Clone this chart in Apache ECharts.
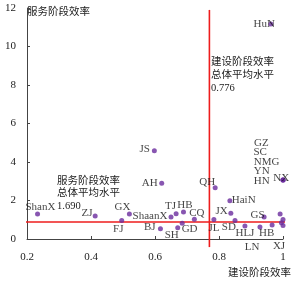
<!DOCTYPE html>
<html><head><meta charset="utf-8">
<script src="https://cdn.jsdelivr.net/npm/echarts/dist/echarts.min.js"></script>
<style>html,body{margin:0;padding:0;background:#fff}#c{width:297px;height:284px}</style>
</head><body><div id="c"></div>
<script>
// ---- data ----
const provinces = ['ShanX','ZJ','FJ','GX','ShaanX','BJ','SH','TJ','HB','GD','CQ','JS','AH','QH','JL','SD','HaiN','JX','HLJ','HB','GS','LN','XJ','HuN','NX','GZ','SC','NMG','YN','HN'];
const buildEff = [0.233,0.413,0.496,0.520,0.650,0.617,0.671,0.666,0.689,0.685,0.723,0.598,0.621,0.788,0.784,0.850,0.834,0.837,0.881,0.928,0.941,0.966,1.000,0.962,1.000,0.991,1.000,0.995,1.000,1.000];
const serviceEff = [1.30,1.19,0.96,1.30,1.14,0.53,0.58,1.31,1.40,0.82,1.03,4.59,2.89,2.66,1.01,0.96,1.99,1.34,0.675,0.62,1.14,0.73,0.70,11.17,3.06,1.30,1.01,0.85,3.06,3.06];
const meanBuildLine = 0.77;      // drawn position of construction mean line
const meanServiceLine = 0.88;    // drawn position of service mean line
const meanBuildText = '0.776';
const meanServiceText = '1.690';
const xTickLabels = ['0.2','0.4','0.6','0.8','1'];
const yTickLabels = ['0','2','4','6','8','10','12'];
const xAxisName = '建设阶段效率';
const yAxisName = '服务阶段效率';
const buildNote = '建设阶段效率\n总体平均水平\n' + meanBuildText;
const serviceNote = '服务阶段效率\n总体平均水平\n' + meanServiceText;
const hLineXExtent = [0.175, 1.045];
const vLineYExtent = [11.9, -0.42];

// ---- label placement style (pixel offsets from each point, not data) ----
const labelOffsetStyle = [
  [2.8,-7.3],[-8.2,-2.7],[-3.5,8.8],[-7,-7.3],[-21,-1],[-10.6,-1.5],[-6,7.2],[-5.7,-7.8],[1.5,-7],[7.4,6],
  [2.5,-6],[-9.6,-1.4],[-12,-0.6],[-8,-5.7],[0,8.5],[-6.2,7],[13.8,-0.7],[-9.2,-2.3],[0,7.3],[6.7,6.3],
  [-6.5,-2],[-20,21.7],[-4,21],[-6.7,0],[-1.8,-1.5],[-26,-71.3],[-29.5,-67.2],[-27.7,-60.2],[-29.3,-8.7],[-29.3,1]
];
const leftAligned = {GZ:1,SC:1,NMG:1,YN:1,HN:1};

const FONT = '"Liberation Serif","Noto Sans CJK SC",serif';
const PURPLE = '#6a2c9e';
const RED = '#ee1c1c';
const AXIS = '#444';

const points = provinces.map((n,i)=>({name:n, value:[buildEff[i], serviceEff[i]]}));

const chart = echarts.init(document.getElementById('c'), null, {renderer:'canvas'});
chart.setOption({
  animation:false,
  backgroundColor:'#fff',
  grid:{left:27,right:14,top:8,bottom:45,containLabel:false,outerBoundsMode:'none'},
  xAxis:{
    type:'value',min:0.2,max:1.0,interval:0.2,
    name:xAxisName,nameLocation:'end',nameGap:8,
    nameTextStyle:{fontFamily:FONT,fontSize:10.5,color:'#222',align:'right',verticalAlign:'top',padding:[29,0,0,0]},
    axisLine:{lineStyle:{color:AXIS,width:1}},
    axisTick:{inside:true,length:3,lineStyle:{color:AXIS}},
    splitLine:{show:false},
    axisLabel:{margin:13,fontFamily:FONT,fontSize:11,color:'#222',
      formatter:(v)=>xTickLabels[Math.round((v-0.2)/0.2)]}
  },
  yAxis:{
    type:'value',min:0,max:12,interval:2,
    name:yAxisName,nameLocation:'end',nameGap:-4,
    nameTextStyle:{fontFamily:FONT,fontSize:10.5,color:'#222',align:'left',verticalAlign:'middle'},
    axisLine:{show:true,lineStyle:{color:AXIS,width:1}},
    axisTick:{show:true,inside:true,length:3,lineStyle:{color:AXIS}},
    splitLine:{show:false},
    axisLabel:{margin:11,fontFamily:FONT,fontSize:11,color:'#222',
      formatter:(v)=>yTickLabels[Math.round(v/2)]}
  },
  series:[
    {type:'line',clip:false,symbol:'none',silent:true,z:1,
      lineStyle:{color:RED,width:1.6},
      data:[[hLineXExtent[0],meanServiceLine],[hLineXExtent[1],meanServiceLine]]},
    {type:'line',clip:false,symbol:'none',silent:true,z:1,
      lineStyle:{color:RED,width:1.6},
      data:[[meanBuildLine,vLineYExtent[0]],[meanBuildLine,vLineYExtent[1]]]},
    {type:'scatter',z:3,symbolSize:5,clip:false,
      itemStyle:{color:PURPLE},
      label:{show:true,position:'inside',formatter:'{b}',fontFamily:FONT,fontSize:11,color:'#111',verticalAlign:'middle'},
      labelLayout:function(p){
        const o = labelOffsetStyle[p.dataIndex];
        const left = leftAligned[provinces[p.dataIndex]];
        const cx = p.rect.x + p.rect.width/2, cy = p.rect.y + p.rect.height/2;
        const w = p.labelRect.width, h = p.labelRect.height;
        const lx = left ? cx + o[0] : cx + o[0] - w/2;
        return {x: lx, y: cy + o[1] - h/2, align:'left', verticalAlign:'top', hideOverlap:false};
      },
      data:points}
  ],
  graphic:[
    {type:'text',left:211,top:56,z:10,
      style:{text:buildNote,font:'10.5px '+FONT,fill:'#222',lineHeight:12.7}},
    {type:'text',left:57,top:174.5,z:10,
      style:{text:serviceNote,font:'10.5px '+FONT,fill:'#222',lineHeight:12.5}}
  ]
});
</script></body></html>
